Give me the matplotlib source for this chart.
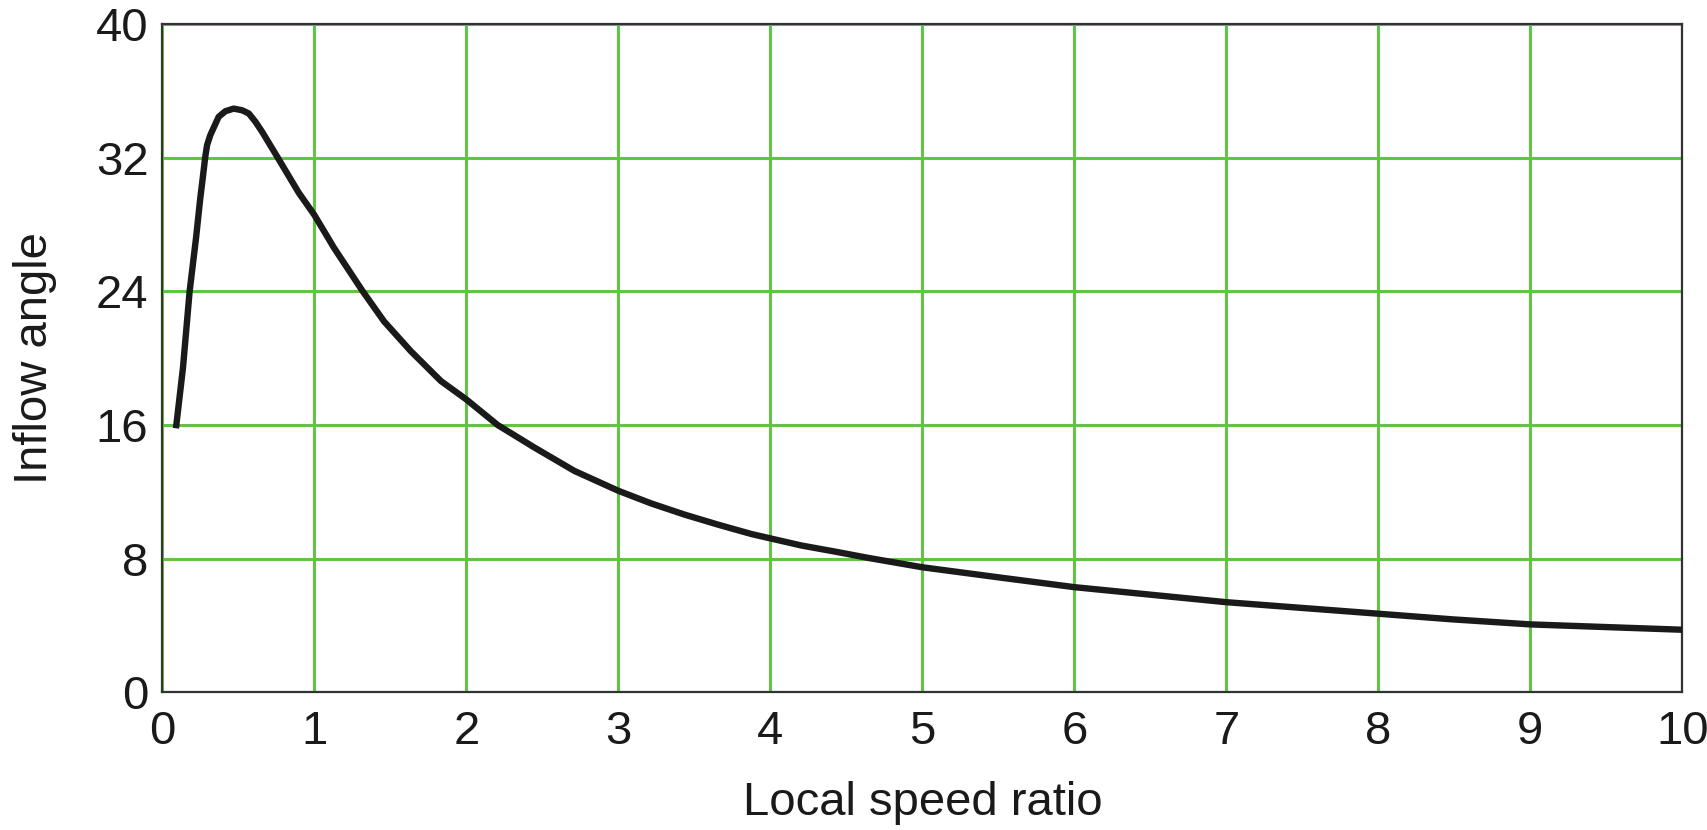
import matplotlib
matplotlib.use("Agg")
import matplotlib.pyplot as plt

# values
speed_ratio = [0.09, 0.136, 0.18, 0.222, 0.25, 0.266, 0.283, 0.295, 0.316, 0.371,
               0.415, 0.47, 0.525, 0.569, 0.613, 0.657, 0.756, 0.898, 1.0, 1.13,
               1.316, 1.459, 1.635, 1.833, 2.0, 2.206, 2.448, 2.711, 3.0, 3.217,
               3.437, 3.657, 3.876, 4.0, 4.206, 4.425, 4.645, 5.0, 5.524, 6.0,
               7.0, 8.0, 8.49, 9.0, 10.0]
inflow_angle = [15.8, 19.4, 24.0, 27.18, 29.57, 30.76, 32.06, 32.76, 33.35, 34.45,
                34.78, 34.94, 34.84, 34.65, 34.15, 33.55, 32.06, 29.9, 28.58, 26.6,
                24.04, 22.2, 20.42, 18.63, 17.53, 16.0, 14.65, 13.25, 12.06, 11.3,
                10.63, 10.03, 9.47, 9.21, 8.78, 8.42, 8.04, 7.48, 6.85, 6.29,
                5.39, 4.70, 4.36, 4.06, 3.74]
x_ticks = list(range(0, 11))
y_ticks = [0, 8, 16, 24, 32, 40]

plt.rcParams['font.family'] = ['Liberation Sans', 'DejaVu Sans']

fig = plt.figure(figsize=(17.08, 8.30), dpi=100)
ax = fig.add_axes([0.095, 0.166, 0.89, 0.805])

ax.plot(speed_ratio, inflow_angle, color="#1a1a1a", lw=4.6,
        solid_capstyle="butt", solid_joinstyle="round", zorder=3)

ax.set_xlim(0, 10)
ax.set_ylim(0, 40)
ax.set_xticks(x_ticks)
ax.set_yticks(y_ticks)
ax.grid(True, color="#62c444", lw=2.2, zorder=1)
ax.set_axisbelow(True)
ax.tick_params(length=0, labelsize=34, colors="#1a1a1a")
ax.tick_params(axis="x", pad=13)
ax.tick_params(axis="y", pad=10)
for s in ax.spines.values():
    s.set_color("#333333")
    s.set_linewidth(1.6)

ax.set_xlabel("Local speed ratio", fontsize=34, labelpad=19, color="#1a1a1a")
ax.set_ylabel("Inflow angle", fontsize=34, labelpad=28, color="#1a1a1a")

fig.savefig("out.png", dpi=100)
